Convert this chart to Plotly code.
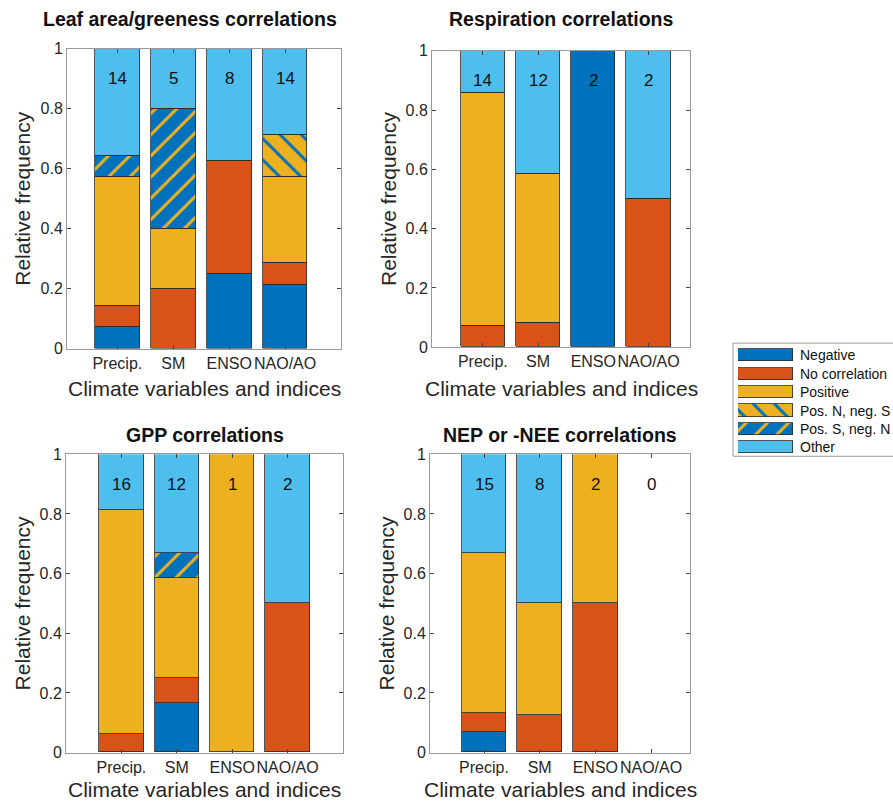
import plotly.graph_objects as go

# ---------------- data ----------------
categories = ["Precip.", "SM", "ENSO", "NAO/AO"]
classes = ["Negative", "No correlation", "Positive", "Pos. N, neg. S", "Pos. S, neg. N", "Other"]

leaf_counts = [[1, 0, 2, 3], [1, 1, 3, 1], [6, 1, 0, 4], [0, 0, 0, 2], [1, 2, 0, 0], [5, 1, 3, 4]]
leaf_totals = [14, 5, 8, 14]
resp_counts = [[0, 0, 2, 0], [1, 1, 0, 1], [11, 6, 0, 0], [0, 0, 0, 0], [0, 0, 0, 0], [2, 5, 0, 1]]
resp_totals = [14, 12, 2, 2]
gpp_counts = [[0, 2, 0, 0], [1, 1, 0, 1], [12, 4, 1, 0], [0, 0, 0, 0], [0, 1, 0, 0], [3, 4, 0, 1]]
gpp_totals = [16, 12, 1, 2]
nep_counts = [[1, 0, 0, 0], [1, 1, 1, 0], [8, 3, 1, 0], [0, 0, 0, 0], [0, 0, 0, 0], [5, 4, 0, 0]]
nep_totals = [15, 8, 2, 0]

titles = ["Leaf area/greeness correlations", "Respiration correlations",
          "GPP correlations", "NEP or -NEE correlations"]
y_ticks = [0, 0.2, 0.4, 0.6, 0.8, 1]
y_ticktext = ["0", "0.2", "0.4", "0.6", "0.8", "1"]

# ---------------- style ----------------
W, H = 893, 811
BLUE = "#0072BD"
RED = "#D95319"
YEL = "#EDB120"
CYAN = "#4DBEEE"
FONT = "Liberation Sans, Arial, sans-serif"
TXT = "#262626"

styles = [
    dict(color=BLUE),
    dict(color=RED),
    dict(color=YEL),
    dict(color=YEL, pattern=dict(shape="\\", fgcolor=BLUE, bgcolor=YEL, size=15, solidity=0.2, fillmode="replace")),
    dict(color=BLUE, pattern=dict(shape="/", fgcolor=YEL, bgcolor=BLUE, size=15, solidity=0.2, fillmode="replace")),
    dict(color=CYAN),
]


def fx(p):
    return p / W


def py(p):
    # vertical placement correction found from a calibration render
    return min((p - 8.2) / 0.978, H)


def fy(p):
    return 1 - py(p) / H


panels = [
    dict(counts=leaf_counts, totals=leaf_totals, box=(67, 341, 49, 348.5), xr=[0.1, 5.0], ty=19, tx=190, xt=388),
    dict(counts=resp_counts, totals=resp_totals, box=(432, 690, 51, 347), xr=[0.08, 4.75], ty=19, tx=None, xt=388),
    dict(counts=gpp_counts, totals=gpp_totals, box=(66, 343, 454, 752), xr=[0.0, 5.0], ty=435, tx=None, xt=789),
    dict(counts=nep_counts, totals=nep_totals, box=(430, 690, 454, 752), xr=[0.03, 4.7], ty=435, tx=None, xt=789),
]

fig = go.Figure()
annotations = []
layout = {}

for i, p in enumerate(panels, start=1):
    sx = "" if i == 1 else str(i)
    for k, cls in enumerate(classes):
        ys = [(c / t) if (t and c) else None for c, t in zip(p["counts"][k], p["totals"])]
        st = styles[k]
        marker = dict(color=st["color"], line=dict(color="#2a2a2a", width=0.8))
        if "pattern" in st:
            marker["pattern"] = st["pattern"]
        fig.add_bar(x=[1, 2, 3, 4], y=ys, width=0.8, marker=marker, name=cls,
                    xaxis="x" + sx, yaxis="y" + sx, showlegend=False, hoverinfo="skip")
    x0, x1, y0, y1 = p["box"]
    axis_common = dict(ticks="inside", ticklen=4, tickcolor="#444", showline=True,
                       linecolor="#9a9a9a", linewidth=1, mirror="ticks", showgrid=False,
                       zeroline=False, tickfont=dict(size=16, color=TXT, family=FONT),
                       fixedrange=True, tickangle=0)
    layout["xaxis" + sx] = dict(domain=[fx(x0), fx(x1)], range=p["xr"], anchor="y" + sx,
                                tickvals=[1, 2, 3, 4], ticktext=categories, **axis_common)
    layout["yaxis" + sx] = dict(domain=[fy(y1), fy(y0)], range=[0, 1], anchor="x" + sx,
                                tickvals=y_ticks, ticktext=y_ticktext, **axis_common)
    for j, t in enumerate(p["totals"]):
        annotations.append(dict(x=j + 1, y=0.9, xref="x" + sx, yref="y" + sx, text=str(t),
                                showarrow=False, xanchor="center", yanchor="middle",
                                font=dict(size=17, color="#111", family=FONT)))
    cx = (x0 + x1) / 2
    tx = p["tx"] if p["tx"] is not None else cx
    annotations.append(dict(x=fx(tx), y=fy(p["ty"]), xref="paper", yref="paper",
                            xanchor="center", yanchor="middle",
                            text="<b>" + titles[i - 1] + "</b>", showarrow=False,
                            font=dict(size=19.5, color="#111", family=FONT)))
    annotations.append(dict(x=fx(cx), y=fy(p["xt"]), xref="paper", yref="paper",
                            xanchor="center", yanchor="middle",
                            text="Climate variables and indices", showarrow=False,
                            font=dict(size=21, color=TXT, family=FONT)))
    annotations.append(dict(x=fx(x0 - 44), y=fy((y0 + y1) / 2), xref="paper", yref="paper",
                            xanchor="center", yanchor="middle",
                            text="Relative frequency", showarrow=False, textangle=-90,
                            font=dict(size=21, color=TXT, family=FONT)))

row_top, row_h = 346, 18.4
for k, cls in enumerate(classes):
    st = styles[k]
    marker = dict(color=st["color"], line=dict(color="#2a2a2a", width=0.8))
    if "pattern" in st:
        marker["pattern"] = st["pattern"]
    fig.add_bar(x=[1], y=[k], orientation="h", width=0.66, marker=marker, xaxis="x5", yaxis="y5",
                showlegend=False, hoverinfo="skip")
    annotations.append(dict(x=fx(798), y=fy(row_top + row_h * (k + 0.5)), xref="paper", yref="paper",
                            xanchor="left", yanchor="middle", text=cls, showarrow=False,
                            font=dict(size=14, color="#111", family=FONT)))
layout["xaxis5"] = dict(domain=[fx(738), fx(793)], range=[0, 1], visible=False, anchor="y5", fixedrange=True)
layout["yaxis5"] = dict(domain=[fy(row_top + 6 * row_h), fy(row_top)], range=[5.5, -0.5],
                        visible=False, anchor="x5", fixedrange=True)

shapes = [dict(type="rect", xref="paper", yref="paper", x0=fx(733), x1=fx(910),
               y0=fy(456), y1=fy(343), line=dict(color="#9a9a9a", width=1))]

fig.update_layout(
    width=W, height=H, margin=dict(l=0, r=0, t=0, b=0), barmode="stack", bargap=0,
    plot_bgcolor="white", paper_bgcolor="white", annotations=annotations,
    font=dict(family=FONT), shapes=shapes, **layout)

fig.write_html("out.html", config={"displayModeBar": False},
               post_script="document.body.style.margin='0';document.body.style.overflow='hidden';")
